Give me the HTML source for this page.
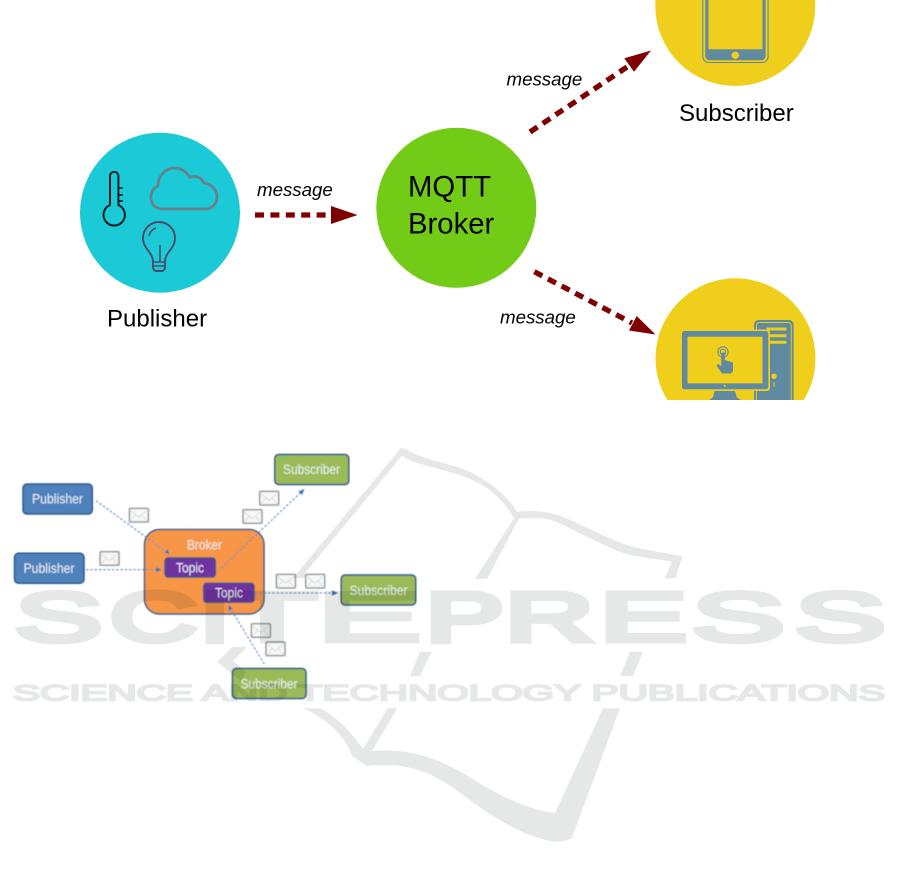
<!DOCTYPE html>
<html lang="en">
<head>
<meta charset="utf-8">
<title>MQTT Publish/Subscribe Diagram</title>
<style>
html,body{margin:0;padding:0;background:#fff;width:901px;height:876px;overflow:hidden}
svg{display:block;font-family:"Liberation Sans",Arial,sans-serif}
.wm text{vector-effect:non-scaling-stroke;paint-order:stroke}
</style>
</head>
<body>
<svg width="901" height="876" viewBox="0 0 901 876" xmlns="http://www.w3.org/2000/svg">
<defs>
<filter id="blur" x="-5%" y="-5%" width="110%" height="110%"><feGaussianBlur stdDeviation="0.5"/></filter>
<filter id="soft" x="-5%" y="-5%" width="110%" height="110%"><feGaussianBlur stdDeviation="0.3"/></filter>
<clipPath id="topclip"><rect x="0" y="0" width="901" height="400"/></clipPath>
<g id="env">
<rect x="0.7" y="0.7" width="19" height="13.6" rx="1" fill="#f6f7f7" stroke="#9a9a9a" stroke-width="1.5"/>
<path d="M2 3L10 9.500L18 3M2 13L7 7M18 13L13 7" fill="none" stroke="#cfd4d8" stroke-width="0.7"/>
</g>
</defs>

<!-- Upper diagram -->
<g clip-path="url(#topclip)" filter="url(#soft)">
<circle cx="160" cy="212.7" r="80" fill="#1bc9d6"/>
<circle cx="456.3" cy="207.8" r="80" fill="#72cb12"/>
<circle cx="735.3" cy="6" r="80" fill="#f0ce1a"/>
<circle cx="735.5" cy="358.3" r="80" fill="#f0ce1a"/>

<!-- thermometer -->
<path d="M110 176a4.2 4.2 0 0 1 8.4 0V205a10.7 10.7 0 1 1-8.4 0Z" fill="none" stroke="#06141a" stroke-width="1.9"/>
<path d="M118 188h5M118 195h5M118 201h5" stroke="#06141a" stroke-width="1.6"/>
<!-- cloud -->
<path d="M163 209H205C213 209 217 203 217 197C217 189 211 184 204 183C201 177 195 175 190 177.500C186 171 180 168 175 168C165 168 158 176 158 186C153 188 151 193 151 198C151 205 156 209 163 209Z" fill="none" stroke="#6b7f8c" stroke-width="2.700" stroke-linejoin="round"/>
<!-- bulb -->
<path d="M153 262C153 252 143 249 143 238a16 16 0 0 1 32 0C175 249 165 252 165 262V267a3 4 0 0 1-3 4H156a3 4 0 0 1-3-4Z" fill="none" stroke="#4b4b68" stroke-width="1.900"/>
<path d="M153 262H165M153 266H165M160 262V245M149 236a10 10 0 0 1 7-8" fill="none" stroke="#4b4b68" stroke-width="1.500"/>

<!-- phone -->
<rect x="702.800" y="-12" width="65.300" height="74.500" rx="6" fill="none" stroke="#5f8aa0" stroke-width="1.100"/>
<rect x="705.300" y="-12" width="60.300" height="72.200" rx="4" fill="#5f8aa0"/>
<rect x="708.500" y="-12" width="54" height="61.300" fill="#f0ce1a"/>
<circle cx="735.300" cy="55.300" r="3.700" fill="#f0ce1a"/>

<!-- computer -->
<rect x="754.600" y="320.500" width="38.500" height="90" rx="4" fill="#5f8aa0" stroke="#5f8aa0"/>
<rect x="756.500" y="322.500" width="34.700" height="90" rx="3" fill="none" stroke="#f0ce1a" stroke-width="0.900"/>
<path d="M766.500 329h20M766.500 335.700h20M766.500 342.300h20" stroke="#f0ce1a" stroke-width="3"/>
<circle cx="774" cy="376.300" r="2.700" fill="#f0ce1a"/>
<path d="M774 382v5" stroke="#f0ce1a" stroke-width="1"/>
<rect x="680.500" y="329.500" width="89.500" height="61.500" rx="3" fill="#f0ce1a"/>
<rect x="682" y="331" width="86.300" height="58.300" rx="2.500" fill="#5f8aa0"/>
<rect x="687.500" y="336.700" width="75" height="46.700" fill="#f0ce1a"/>
<circle cx="724.700" cy="385.800" r="1" fill="#f0ce1a"/>
<path d="M714.500 391H735L736.500 397L742 401H708L713 397Z" fill="#5f8aa0"/>
<circle cx="723" cy="352" r="5.200" fill="none" stroke="#5f8aa0" stroke-width="1"/>
<circle cx="723" cy="352" r="2.800" fill="none" stroke="#5f8aa0" stroke-width="1"/>
<path d="M721.300 352.500h3.400V360L733 362.500V371L731 373.500H722L716.500 365.500L718.500 364L721.300 366Z" fill="#5f8aa0"/>

<!-- arrows -->
<line x1="255" y1="215" x2="332" y2="215" stroke="#7f0000" stroke-width="5.300" stroke-dasharray="9 6.400"/>
<path d="M331 206L357.500 215L331 224Z" fill="#7f0000"/>
<line x1="530" y1="132" x2="627" y2="67" stroke="#7f0000" stroke-width="5.300" stroke-dasharray="9 6.400"/>
<path d="M651 50.500L624.300 58.300L634 71.700Z" fill="#7f0000"/>
<line x1="534.300" y1="271.700" x2="632" y2="323" stroke="#7f0000" stroke-width="5.300" stroke-dasharray="9 6.400"/>
<path d="M655.500 334.500L636.700 316L629 330.500Z" fill="#7f0000"/>

<!-- labels -->
<text x="107" y="326.500" font-size="24" fill="#050505">Publisher</text>
<text x="679" y="121" font-size="24" fill="#050505">Subscriber</text>
<text x="408" y="196.700" font-size="29.300" fill="#050505">MQTT</text>
<text x="408" y="233.300" font-size="29.300" fill="#050505">Broker</text>
<g font-size="18.700" font-style="italic" fill="#050505">
<text x="257" y="196">message</text>
<text x="506.500" y="85.500">message</text>
<text x="500" y="323.500">message</text>
</g>
</g>

<!-- Lower diagram -->
<g filter="url(#blur)">
<rect x="144.500" y="529.500" width="119.500" height="84.500" rx="15" fill="#f79646" stroke="#385d8a" stroke-width="1.500"/>
<g stroke="#2f5a8c" stroke-width="1.500">
<rect x="23" y="484" width="69.300" height="30" rx="4" fill="#4f81bd"/>
<rect x="14.500" y="553.300" width="69.500" height="30" rx="4" fill="#4f81bd"/>
<rect x="274.800" y="454.500" width="74" height="30" rx="4" fill="#9bbb59"/>
<rect x="341.200" y="575" width="74.500" height="30" rx="4" fill="#9bbb59"/>
<rect x="232.500" y="668.500" width="73.500" height="30" rx="4" fill="#9bbb59"/>
<rect x="165" y="558" width="50.300" height="19" rx="3" fill="#7030a0"/>
<rect x="203.700" y="583.300" width="50.300" height="19" rx="3" fill="#7030a0"/>
</g>
<g fill="none" stroke="#5f8fc4" stroke-width="1.100" stroke-dasharray="2.500 1.800">
<line x1="96" y1="500.700" x2="168" y2="553"/>
<line x1="86" y1="569.700" x2="159" y2="569.700"/>
<line x1="221" y1="568.300" x2="303" y2="490.300"/>
<line x1="255" y1="593" x2="335" y2="593"/>
<line x1="264.300" y1="664" x2="229.500" y2="607"/>
</g>
<g fill="#3f74b5">
<path d="M169.500 554.500L164.500 552.500L167.500 549Z"/>
<path d="M161.500 569.700L156 567V572.400Z"/>
<path d="M304.500 489L298.500 491.300L302 495Z"/>
<path d="M338 593L332 590.300V595.700Z"/>
<path d="M228.500 605.300L228.500 611L233 608.500Z"/>
</g>
<use href="#env" x="128.700" y="507.700"/>
<use href="#env" x="99.300" y="551"/>
<use href="#env" x="259" y="490.700"/>
<use href="#env" x="242.300" y="509"/>
<use href="#env" x="275.700" y="573.700"/>
<use href="#env" x="305" y="573.700"/>
<use href="#env" x="250.700" y="623"/>
<use href="#env" x="265.300" y="641.300"/>
<g fill="#eaf0f5" font-size="14" text-anchor="middle">
<text x="57.500" y="503.500" textLength="51" lengthAdjust="spacingAndGlyphs">Publisher</text>
<text x="49" y="573" textLength="51" lengthAdjust="spacingAndGlyphs">Publisher</text>
<text x="311.500" y="474" textLength="57" lengthAdjust="spacingAndGlyphs">Subscriber</text>
<text x="378.500" y="595" textLength="58" lengthAdjust="spacingAndGlyphs">Subscriber</text>
<text x="269" y="688.500" textLength="57" lengthAdjust="spacingAndGlyphs">Subscriber</text>
<text x="204.500" y="549.500" textLength="35" lengthAdjust="spacingAndGlyphs">Broker</text>
<text x="190" y="572.500" textLength="28" lengthAdjust="spacingAndGlyphs">Topic</text>
<text x="229" y="597.500" textLength="28" lengthAdjust="spacingAndGlyphs">Topic</text>
</g>
</g>

<!-- Watermark -->
<g class="wm" style="mix-blend-mode:multiply" filter="url(#soft)" fill="#e6e8e7">
<path d="M401 448L405 449C420 458 445 463 460 468C475 473 490 483 499 491C507 498 513 505 516.700 511.700C525 511 535 511 543 511.700C555 513 566 518 577 523C597 532 615 542 633 546.700C650 551 668 553 682.700 556.700L675 578.300H665L671.700 561.700C657 559 643 558 630 555C612 550 595 540 576.700 531.700C565 526 555 520 543.300 518.300L519 518.500L487 579H475L514 518.300C508 507 498 497 490 490C480 483 470 479 460 475L413 461.700L401.700 456L305 573.300V578H293Z"/>
<path d="M232 647L217 662L241 681L246 672L233 661L247 647Z"/>
<path d="M420 651.700H431.700L420 676H410Z"/>
<path d="M630 651.700H643L633 676H620Z"/>
<path d="M303.300 708.300H320C335 716 350 730 363 749L387.700 708.300H397.300L372 751C400 749 425 752 463 773C490 790 520 808 555 813.300L603 708.300H620L571.700 838.300C565 842 555 842 550 841C520 835 490 815 463 795C430 770 405 762 366.700 766L351.700 755.500C345 735 325 718 303.300 708.300Z"/>
<g font-size="69.500" stroke="#e6e8e7" stroke-width="8" stroke-linejoin="miter">
<text transform="translate(15 641) scale(1.88 1)">S</text>
<text transform="translate(110 641) scale(1.73 1)">C</text>
<text transform="translate(201 641) scale(1.43 1)">I</text>
<text transform="translate(227 641) scale(2.12 1)">T</text>
<text transform="translate(317.500 641) scale(2.23 1)">E</text>
<text transform="translate(426 641) scale(1.67 1)">P</text>
<text transform="translate(505 641) scale(1.77 1)">R</text>
<text transform="translate(600 641) scale(1.87 1)">E</text>
<text transform="translate(691.800 641) scale(2 1)">S</text>
<text transform="translate(795 641) scale(1.95 1)">S</text>
</g>
<text transform="translate(13 700.300) scale(1.84 1)" font-size="22" stroke="#e6e8e7" stroke-width="2.700">SCIENCE AND TECHNOLOGY PUBLICATIONS</text>
</g>
</svg>
</body>
</html>
